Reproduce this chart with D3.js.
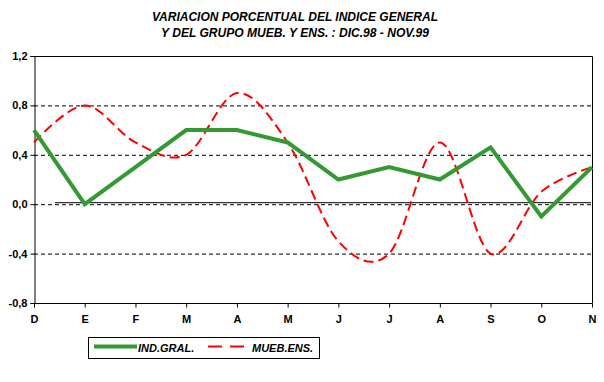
<!DOCTYPE html>
<html><head><meta charset="utf-8">
<script src="https://cdn.jsdelivr.net/npm/d3@7"></script>
<style>
html,body{margin:0;padding:0;background:#fff;}
svg{display:block;}
text{font-family:Arial,"Liberation Sans",sans-serif;font-weight:bold;fill:#000;}
</style></head>
<body>
<svg id="c" width="604" height="382"></svg>
<script>
const months = ["D","E","F","M","A","M","J","J","A","S","O","N"];
const indGral = [0.6, 0.0, 0.3, 0.6, 0.6, 0.5, 0.2, 0.3, 0.2, 0.46, -0.1, 0.3];
const muebEns = [0.5, 0.8, 0.5, 0.4, 0.9, 0.5, -0.3, -0.4, 0.5, -0.4, 0.1, 0.3];
const yTicks = [-0.8, -0.4, 0.0, 0.4, 0.8, 1.2];
const gridTicks = [-0.4, 0.0, 0.4, 0.8];
const titleLines = ["VARIACION PORCENTUAL DEL INDICE GENERAL", "Y DEL GRUPO MUEB. Y ENS. : DIC.98 - NOV.99"];
const legendLabels = ["IND.GRAL.", "MUEB.ENS."];

const svg = d3.select("#c");
const L = 34, R = 592, T = 56, B = 303;
const idx = months.map((d,i)=>i);
const x = d3.scalePoint().domain(idx).range([L, R]);
const y = d3.scaleLinear().domain([-0.8, 1.2]).range([B, T]);
const fmt = v => d3.format(".1f")(v).replace(".", ",").replace("−","-");

// title
svg.selectAll("text.title").data(titleLines).enter().append("text")
  .attr("class","title").attr("x", 295).attr("y",(d,i)=>21+i*16)
  .attr("text-anchor","middle").attr("font-size",12).attr("font-style","italic")
  .attr("textLength", (d,i)=> i===0 ? 286 : 268).attr("lengthAdjust","spacingAndGlyphs")
  .text(d=>d);

// grid
svg.append("g").selectAll("line").data(gridTicks).enter().append("line")
  .attr("x1", L).attr("x2", R).attr("y1", d=>y(d)+0.5).attr("y2", d=>y(d)+0.5)
  .attr("stroke","#000").attr("stroke-width",1).attr("stroke-dasharray","4,3");

// extra solid line just above zero
svg.append("line").attr("x1", x(0)+21).attr("x2", R-1)
  .attr("y1", y(0)-1.5).attr("y2", y(0)-1.5).attr("stroke","#000").attr("stroke-width",1);

// frame top/right
svg.append("path").attr("d", `M${L},${T+0.5}H${R+0.5}V${B}`)
  .attr("fill","none").attr("stroke","#000").attr("stroke-width",1);

// y axis
const ya = svg.append("g").attr("transform",`translate(${L+0.5},0)`)
  .call(d3.axisLeft(y).tickValues(yTicks).tickFormat(fmt).tickSizeOuter(0).tickSize(4).tickPadding(3));
ya.selectAll("text").attr("font-size",11).style("font-family","Arial,'Liberation Sans',sans-serif").style("font-weight","bold");
ya.select(".domain").attr("stroke-width",1);

// x axis
const xa = svg.append("g").attr("transform",`translate(0,${B+0.5})`)
  .call(d3.axisBottom(x).tickFormat(i=>months[i]).tickSizeOuter(0).tickSize(4).tickPadding(8));
xa.selectAll("text").attr("font-size",11).style("font-family","Arial,'Liberation Sans',sans-serif").style("font-weight","bold");
xa.select(".domain").attr("d", `M${L},0H${R+0.5}`);

// series
const lineLin = d3.line().x((d,i)=>x(i)).y(d=>y(d));
const lineSmooth = d3.line().x((d,i)=>x(i)).y(d=>y(d)).curve(d3.curveCardinal.tension(0));

svg.append("path").datum(muebEns).attr("d", lineSmooth)
  .attr("fill","none").attr("stroke","#ff0000").attr("stroke-width",2)
  .attr("stroke-dasharray","10,5");
svg.append("path").datum(indGral).attr("d", lineLin)
  .attr("fill","none").attr("stroke","#339933").attr("stroke-width",4)
  .attr("stroke-linejoin","miter");

// legend
const lg = svg.append("g");
lg.append("rect").attr("x",88.5).attr("y",337.5).attr("width",231).attr("height",21)
  .attr("fill","#fff").attr("stroke","#000").attr("stroke-width",1);
lg.append("line").attr("x1",94).attr("x2",137).attr("y1",346.5).attr("y2",346.5)
  .attr("stroke","#339933").attr("stroke-width",4);
lg.append("text").attr("x",138).attr("y",352).attr("font-size",11).attr("font-style","italic").text(legendLabels[0]);
lg.append("line").attr("x1",208).attr("x2",244).attr("y1",346.5).attr("y2",346.5)
  .attr("stroke","#ff0000").attr("stroke-width",2).attr("stroke-dasharray","14,8");
lg.append("text").attr("x",252).attr("y",352).attr("font-size",11).attr("font-style","italic").text(legendLabels[1]);
</script>
</body></html>
